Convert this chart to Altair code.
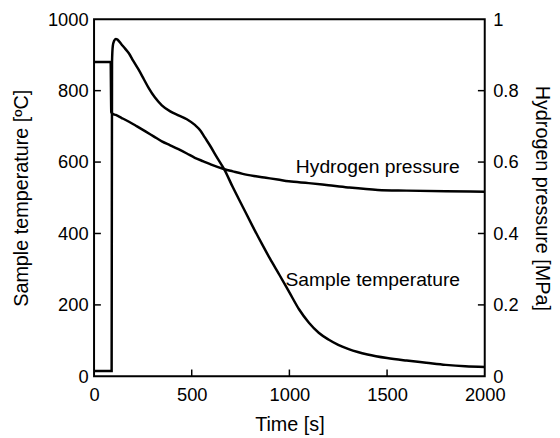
import altair as alt
import pandas as pd

# Sample temperature (left axis, °C)
time_temp = [0, 86, 90, 92, 96, 103, 111, 120, 140, 160, 179, 200, 229, 255, 280, 310, 347,
             390, 432, 475, 516, 545, 567, 595, 626, 668, 710, 761, 812, 860, 900, 950,
             1000, 1050, 1100, 1150, 1200, 1250, 1300, 1350, 1400, 1500, 1600, 1700, 1800,
             1900, 2000]
temp = [15, 15, 15, 880, 925, 940, 945, 943, 930, 917, 904, 884, 858, 832, 807, 782, 759,
        742, 731, 720, 704, 688, 669, 645, 616, 578, 530, 475, 420, 370, 330, 283,
        235, 187, 150, 122, 103, 88, 77, 68, 61, 51, 44, 38, 32,
        28, 26]

# Hydrogen pressure (right axis, MPa)
time_pres = [0, 85, 88, 95, 111, 140, 179, 220, 263, 305, 347, 390, 432, 475, 516, 560,
             600, 668, 710, 761, 820, 880, 940, 997, 1099, 1200, 1300, 1453, 1600, 1800, 2000]
pres = [0.88, 0.88, 0.74, 0.735, 0.732, 0.724, 0.713, 0.700, 0.686, 0.672, 0.658, 0.647,
        0.636, 0.624, 0.612, 0.602, 0.593, 0.580, 0.574, 0.567, 0.561, 0.556, 0.551, 0.546,
        0.541, 0.535, 0.529, 0.522, 0.520, 0.518, 0.517]

x_ticks = [0, 500, 1000, 1500, 2000]
x_inner_ticks = [500, 1000, 1500]
temp_ticks = [0, 200, 400, 600, 800, 1000]
temp_inner_ticks = [200, 400, 600, 800]
pres_ticks = [0, 0.2, 0.4, 0.6, 0.8, 1]
pres_inner_ticks = [0.2, 0.4, 0.6, 0.8]

FONT = "Liberation Sans"
xscale = alt.Scale(domain=[0, 2000], nice=False, zero=False)
tscale = alt.Scale(domain=[0, 1000], nice=False)
pscale = alt.Scale(domain=[0, 1], nice=False)

df_t = pd.DataFrame({"t": time_temp, "T": temp})
df_p = pd.DataFrame({"t": time_pres, "P": pres})

label_kw = dict(labelFont=FONT, labelFontSize=18.5, labelColor="black",
                titleFont=FONT, titleFontSize=20, titleColor="black", titleFontWeight="normal",
                grid=False, domain=False, labelFlush=False, tickSize=0)

xaxis = alt.Axis(orient="bottom", values=x_ticks, title="Time [s]",
                 labelPadding=9, titlePadding=11, format="d", **label_kw)

temp_line = alt.Chart(df_t).mark_line(color="black", strokeWidth=2.5, interpolate="monotone").encode(
    x=alt.X("t:Q", scale=xscale, axis=xaxis),
    y=alt.Y("T:Q", scale=tscale,
            axis=alt.Axis(orient="left", values=temp_ticks, title="Sample temperature [ºC]",
                          labelPadding=6, titlePadding=16, format="d", **label_kw)),
)

pres_line = alt.Chart(df_p).mark_line(color="black", strokeWidth=2.5, interpolate="monotone").encode(
    x=alt.X("t:Q", scale=xscale, axis=xaxis),
    y=alt.Y("P:Q", scale=pscale,
            axis=alt.Axis(orient="right", values=pres_ticks, title="Hydrogen pressure [MPa]",
                          labelPadding=8, titlePadding=14, format="~g", **label_kw)),
)

# inward tick marks, drawn through the scales
bottom_ticks = alt.Chart(pd.DataFrame({"v": x_inner_ticks})).mark_rule(
    color="black", strokeWidth=1.5).encode(
    x=alt.X("v:Q", scale=xscale, axis=xaxis),
    y=alt.YDatum(0, scale=tscale, axis=None),
    y2=alt.Y2Datum(19),
)
left_ticks = alt.Chart(pd.DataFrame({"v": temp_inner_ticks})).mark_rule(
    color="black", strokeWidth=1.5).encode(
    y=alt.Y("v:Q", scale=tscale, axis=None),
    x=alt.XDatum(0, scale=xscale, axis=xaxis),
    x2=alt.X2Datum(35),
)
right_ticks = alt.Chart(pd.DataFrame({"v": pres_inner_ticks})).mark_rule(
    color="black", strokeWidth=1.5).encode(
    y=alt.Y("v:Q", scale=pscale, axis=None),
    x=alt.XDatum(1965, scale=xscale, axis=xaxis),
    x2=alt.X2Datum(2000),
)

temp_label = alt.Chart(pd.DataFrame({"label": ["Sample temperature"]})).mark_text(
    font=FONT, fontSize=19.5, color="black", align="left", baseline="alphabetic"
).encode(
    x=alt.XDatum(980, scale=xscale, axis=xaxis),
    y=alt.YDatum(253, scale=tscale, axis=None),
    text="label:N",
)

pres_label = alt.Chart(pd.DataFrame({"label": ["Hydrogen pressure"]})).mark_text(
    font=FONT, fontSize=19.5, color="black", align="left", baseline="alphabetic"
).encode(
    x=alt.XDatum(1033, scale=xscale, axis=xaxis),
    y=alt.YDatum(0.57, scale=pscale, axis=None),
    text="label:N",
)

chart = alt.layer(
    temp_line, pres_line, bottom_ticks, left_ticks, right_ticks, temp_label, pres_label
).resolve_scale(
    y="independent"
).resolve_axis(
    y="independent"
).properties(
    width=395, height=361,
    padding={"left": 3, "top": 0, "right": 0, "bottom": 0},
).configure_view(
    stroke="black", strokeWidth=2
)

chart.save("out.html", embed_options={"renderer": "svg", "actions": False})
